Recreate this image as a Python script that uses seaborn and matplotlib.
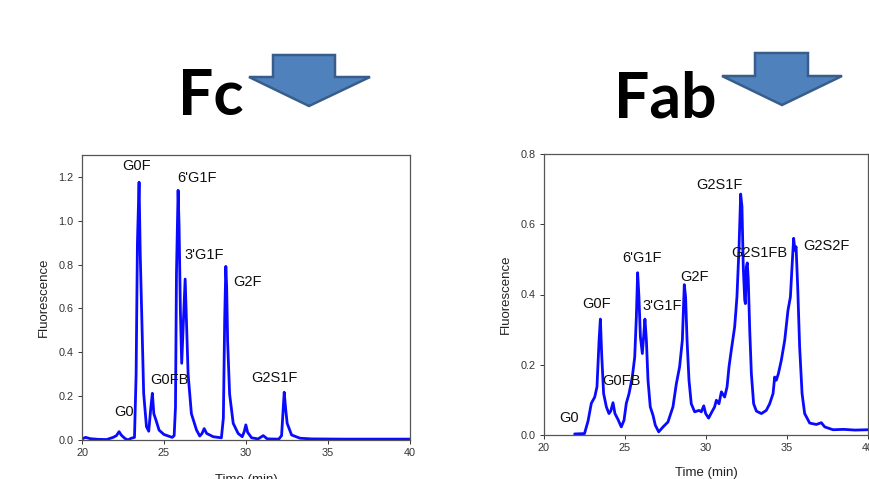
import matplotlib
matplotlib.use("Agg")
import numpy as np
import pandas as pd
import matplotlib.pyplot as plt
import seaborn as sns
from matplotlib.patches import Polygon

# 数据：色谱曲线点（时间, 荧光）
fc_time = [20.0, 20.22, 20.5, 21.0, 21.5, 21.9, 22.1, 22.26, 22.4, 22.6, 22.8, 23.0,
           23.2, 23.3, 23.38, 23.48, 23.55, 23.68, 23.76, 23.93, 24.07, 24.2, 24.29,
           24.38, 24.54, 24.7, 25.0, 25.5, 25.62, 25.7, 25.76, 25.86, 25.92, 26.0,
           26.08, 26.19, 26.29, 26.39, 26.47, 26.67, 26.98, 27.18, 27.32, 27.45,
           27.6, 28.0, 28.5, 28.62, 28.7, 28.77, 28.82, 28.88, 29.0, 29.22, 29.52,
           29.77, 29.9, 29.99, 30.1, 30.34, 30.74, 31.05, 31.3, 32.0, 32.17, 32.25,
           32.33, 32.42, 32.51, 32.78, 33.3, 34.0, 36.0, 38.0, 40.0]
fc_signal = [0.005, 0.012, 0.006, 0.003, 0.002, 0.012, 0.02, 0.038, 0.022, 0.008, 0.0, 0.008,
             0.012, 0.3, 0.9, 1.176, 0.85, 0.457, 0.213, 0.061, 0.04, 0.15, 0.213,
             0.12, 0.084, 0.045, 0.025, 0.012, 0.02, 0.15, 0.76, 1.139, 0.975, 0.585,
             0.35, 0.554, 0.734, 0.493, 0.30, 0.12, 0.046, 0.018, 0.03, 0.052,
             0.03, 0.015, 0.01, 0.1, 0.55, 0.792, 0.70, 0.45, 0.21, 0.076, 0.03,
             0.015, 0.04, 0.069, 0.035, 0.01, 0.005, 0.02, 0.005, 0.004, 0.02, 0.12,
             0.218, 0.14, 0.076, 0.023, 0.008, 0.005, 0.004, 0.004, 0.004]

fab_time = [21.89, 22.5, 22.72, 22.92, 23.13, 23.27, 23.4, 23.48, 23.56, 23.68, 23.85,
            24.01, 24.12, 24.26, 24.38, 24.57, 24.77, 24.94, 25.08, 25.25, 25.45,
            25.6, 25.7, 25.78, 25.86, 25.95, 26.07, 26.15, 26.23, 26.32, 26.42,
            26.56, 26.73, 26.87, 27.08, 27.35, 27.65, 27.96, 28.17, 28.37, 28.54,
            28.66, 28.74, 28.83, 28.95, 29.09, 29.3, 29.57, 29.71, 29.86, 29.98,
            30.16, 30.33, 30.53, 30.64, 30.8, 30.95, 31.15, 31.3, 31.42, 31.56,
            31.77, 31.91, 32.04, 32.14, 32.22, 32.3, 32.39, 32.43, 32.49, 32.55,
            32.61, 32.7, 32.8, 32.94, 33.11, 33.42, 33.72, 33.93, 34.14, 34.24,
            34.34, 34.47, 34.65, 34.86, 35.06, 35.21, 35.31, 35.41, 35.49, 35.56,
            35.66, 35.78, 35.93, 36.09, 36.4, 36.81, 37.12, 37.33, 37.84, 38.5,
            39.2, 40.0]
fab_signal = [0.003, 0.004, 0.04, 0.09, 0.108, 0.137, 0.27, 0.33, 0.23, 0.118, 0.08,
              0.061, 0.068, 0.092, 0.061, 0.044, 0.023, 0.042, 0.09, 0.118, 0.165,
              0.222, 0.336, 0.462, 0.393, 0.28, 0.232, 0.28, 0.33, 0.27, 0.156,
              0.08, 0.056, 0.028, 0.009, 0.023, 0.037, 0.08, 0.146, 0.194, 0.27,
              0.428, 0.393, 0.27, 0.156, 0.089, 0.066, 0.07, 0.066, 0.083, 0.061,
              0.048, 0.063, 0.08, 0.099, 0.089, 0.123, 0.108, 0.137, 0.194, 0.241,
              0.308, 0.393, 0.536, 0.686, 0.65, 0.479, 0.384, 0.374, 0.479, 0.49,
              0.441, 0.298, 0.175, 0.089, 0.068, 0.061, 0.07, 0.089, 0.118, 0.165,
              0.156, 0.175, 0.213, 0.27, 0.355, 0.393, 0.479, 0.56, 0.526, 0.536,
              0.422, 0.251, 0.118, 0.061, 0.034, 0.03, 0.035, 0.023, 0.015, 0.016,
              0.014, 0.015]

# 峰标注 (文字, 时间, 荧光)
fc_peaks = ["G0", "G0F", "G0FB", "6'G1F", "3'G1F", "G2F", "G2S1F"]
fc_peak_t = [22.54, 23.32, 25.31, 27.02, 27.43, 30.07, 31.72]
fc_peak_y = [0.129, 1.249, 0.274, 1.195, 0.845, 0.719, 0.282]

fab_peaks = ["G0", "G0F", "G0FB", "6'G1F", "3'G1F", "G2F", "G2S1F", "G2S1FB", "G2S2F"]
fab_peak_t = [21.54, 23.27, 24.81, 26.05, 27.28, 29.3, 30.84, 33.27, 37.43]
fab_peak_y = [0.049, 0.374, 0.154, 0.505, 0.367, 0.45, 0.712, 0.517, 0.538]

fc_df = pd.DataFrame({"Time": fc_time, "Fluorescence": fc_signal})
fab_df = pd.DataFrame({"Time": fab_time, "Fluorescence": fab_signal})

sns.set_theme(style="ticks")
plt.rcParams['font.family'] = ['Liberation Sans', 'DejaVu Sans']

W, H = 870, 479
fig = plt.figure(figsize=(W / 100, H / 100), dpi=100)

def px_axes(x0, y0, x1, y1):
    return fig.add_axes([x0 / W, 1 - y1 / H, (x1 - x0) / W, (y1 - y0) / H])

ax1 = px_axes(82, 155, 410, 440)
ax2 = px_axes(544, 154, 868, 435)

line_color = "#0a0aff"
sns.lineplot(data=fc_df, x="Time", y="Fluorescence", ax=ax1, color=line_color,
             linewidth=2.0, estimator=None, sort=False)
sns.lineplot(data=fab_df, x="Time", y="Fluorescence", ax=ax2, color=line_color,
             linewidth=2.0, estimator=None, sort=False)

for ax, ymax, yticks, xpad in [(ax1, 1.3, np.arange(0, 1.21, 0.2), 11),
                               (ax2, 0.8, np.arange(0, 0.81, 0.2), 10)]:
    ax.set_xlim(20, 40)
    ax.set_ylim(0, ymax)
    ax.set_xticks([20, 25, 30, 35, 40])
    ax.set_yticks(yticks)
    ax.set_yticklabels([f"{v:.1f}" for v in yticks])
    ax.tick_params(labelsize=7.8, length=3, width=0.7, colors="#333333", pad=3)
    for s in ax.spines.values():
        s.set_color("#555555")
        s.set_linewidth(0.9)
    ax.set_ylabel("Fluorescence", fontsize=9.5, color="#222222", labelpad=6)
    ax.set_xlabel("Time (min)", fontsize=9.5, color="#222222", labelpad=xpad)

for name, t, y in zip(fc_peaks, fc_peak_t, fc_peak_y):
    ax1.text(t, y, name, fontsize=10.5, ha="center", va="center", color="#111111")
for name, t, y in zip(fab_peaks, fab_peak_t, fab_peak_y):
    ax2.text(t, y, name, fontsize=10.5, ha="center", va="center", color="#111111")

# 大标题
fig.text(178 / W, 1 - 115 / H, "Fc", fontsize=45, fontweight="bold",
         family=["Lato", "DejaVu Sans"], ha="left", va="baseline", color="black")
fig.text(614 / W, 1 - 118 / H, "Fab", fontsize=45, fontweight="bold",
         family=["Lato", "DejaVu Sans"], ha="left", va="baseline", color="black")

# 下箭头
def arrow(pts):
    xy = [(x / W, 1 - y / H) for x, y in pts]
    fig.patches.append(Polygon(xy, closed=True, transform=fig.transFigure,
                               facecolor="#4F81BD", edgecolor="#385D8A",
                               linewidth=1.8, joinstyle="miter"))

arrow([(273, 55), (335, 55), (335, 77), (370, 77), (309, 106), (249, 77), (273, 77)])
arrow([(755, 53), (808, 53), (808, 76), (842, 76), (782, 105), (722, 76), (755, 76)])

fig.savefig("out.png", dpi=100)
